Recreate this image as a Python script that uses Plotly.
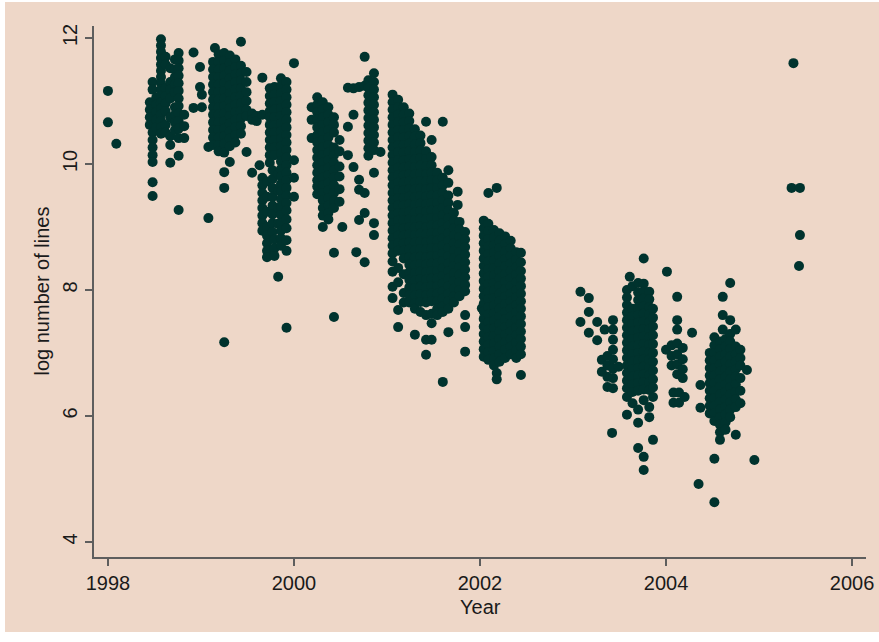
import plotly.graph_objects as go

# ---- data: release date (year) -> list of log(number of lines) ----
rel_1998 = {
    1998.00: [11.16, 10.66],
    1998.09: [10.32],
    1998.45: [10.98, 10.86, 10.74, 10.62],
    1998.48: [11.30, 11.18, 10.50, 10.38, 10.26, 10.14, 10.03, 9.71, 9.49],
    1998.52: [11.06, 10.94, 10.82, 10.70, 10.58],
    1998.57: [11.98, 11.88, 11.78, 11.68, 11.58, 11.48, 11.38, 11.28, 11.18, 11.08, 10.98, 10.88, 10.78, 10.68, 10.58, 10.48],
    1998.62: [11.70, 11.58, 11.20, 11.08, 10.96, 10.84, 10.62, 10.50],
    1998.67: [11.52, 11.30, 11.18, 11.04, 10.74, 10.44, 10.30, 10.02],
    1998.72: [11.66, 11.50, 11.38, 11.26, 11.14, 10.90, 10.78, 10.66, 10.54],
    1998.76: [11.76, 11.64, 11.52, 11.40, 11.28, 11.16, 11.04, 10.92, 10.80, 10.68, 10.56, 10.41, 10.13, 9.27],
    1998.82: [10.78, 10.60, 10.41],
    1998.92: [11.77, 10.89],
    1998.99: [11.54, 11.22],
    1999.01: [11.10, 10.90],
    1999.08: [10.27, 9.14],
}

rel_1999 = {
    1999.13: [11.62, 11.50, 11.38, 11.26, 11.14, 11.02, 10.90, 10.78, 10.66, 10.54, 10.42, 10.30],
    1999.15: [11.84],
    1999.19: [11.74, 11.62, 11.50, 11.38, 11.26, 11.14, 11.02, 10.90, 10.78, 10.66, 10.54, 10.42, 10.30, 10.20],
    1999.25: [11.76, 11.64, 11.52, 11.40, 11.28, 11.16, 11.04, 10.92, 10.80, 10.68, 10.56, 10.44, 10.32, 10.18, 9.87, 9.62, 7.17],
    1999.31: [11.72, 11.60, 11.48, 11.36, 11.24, 11.12, 11.00, 10.88, 10.76, 10.64, 10.52, 10.40, 10.28, 10.03],
    1999.37: [11.66, 11.54, 11.42, 11.30, 11.18, 11.06, 10.94, 10.82, 10.70, 10.58, 10.46, 10.34],
    1999.43: [11.94, 11.56, 11.44, 11.32, 11.20, 11.08, 10.96, 10.84, 10.72, 10.60, 10.48],
    1999.49: [11.46, 11.30, 11.14, 11.00, 10.86, 10.76, 10.19],
    1999.55: [10.80, 10.70, 9.86],
    1999.60: [10.76, 10.68],
    1999.63: [9.98],
    1999.66: [11.37, 10.78, 9.78, 9.66, 9.54, 9.42, 9.30, 9.18, 9.06, 8.94],
    1999.71: [9.72, 9.48, 9.24, 9.00, 8.86, 8.74, 8.62, 8.52],
    1999.74: [11.20, 11.08, 10.96, 10.84, 10.74, 10.62, 10.50, 10.38, 10.26, 10.14, 10.02],
    1999.77: [9.90, 9.76, 9.62, 9.48, 9.34, 9.20, 9.06, 8.92],
    1999.79: [11.22, 11.10, 10.98, 10.86, 10.74, 10.62, 10.50, 10.38, 10.26, 10.14, 8.80, 8.66, 8.54],
    1999.83: [9.84, 9.58, 9.30, 9.05, 8.21],
    1999.86: [11.36, 11.24, 11.12, 11.00, 10.88, 10.76, 10.64, 10.52, 10.40, 10.28, 10.16, 10.04, 9.92, 9.80, 9.68, 9.56, 9.44, 9.32, 9.19, 9.06, 8.94, 8.82, 8.70],
    1999.92: [11.30, 11.18, 11.06, 10.94, 10.82, 10.70, 10.58, 10.46, 10.34, 10.22, 10.10, 9.98, 9.86, 9.74, 9.62, 9.50, 9.38, 9.26, 9.12, 8.98, 8.79, 8.62, 7.40],
}

rel_2000 = {
    2000.00: [11.60, 10.06, 9.78, 9.48],
    2000.19: [10.90, 10.70, 10.41],
    2000.25: [11.06, 10.94, 10.82, 10.70, 10.58, 10.46, 10.34, 10.22, 10.10, 9.98, 9.86, 9.74, 9.64, 9.52],
    2000.31: [10.98, 10.86, 10.74, 10.62, 10.50, 10.38, 10.26, 10.14, 10.02, 9.90, 9.78, 9.66, 9.54, 9.42, 9.30, 9.18, 9.00],
    2000.37: [10.90, 10.78, 10.66, 10.54, 10.42, 10.30, 10.18, 10.06, 9.94, 9.82, 9.70, 9.58, 9.46, 9.34, 9.22, 9.12],
    2000.43: [10.74, 10.62, 10.50, 10.26, 10.14, 10.02, 9.90, 9.78, 9.66, 9.54, 9.42, 9.30, 8.59, 7.57],
    2000.49: [10.38, 10.20, 9.96, 9.80, 9.60, 9.40],
    2000.52: [9.00],
    2000.58: [11.21, 10.59, 10.14],
    2000.64: [11.20, 10.78, 9.95],
    2000.67: [8.60],
    2000.70: [11.22, 9.75, 9.59, 9.11],
    2000.76: [11.70, 11.24, 9.54, 9.22, 8.44],
    2000.80: [11.33, 11.21, 11.09, 10.97, 10.85, 10.73, 10.61, 10.49, 10.37, 10.25, 10.13],
    2000.86: [11.44, 11.30, 11.18, 11.06, 10.94, 10.82, 10.70, 10.58, 10.46, 10.34, 10.22, 9.86, 9.06, 8.87],
    2000.93: [10.19],
}

rel_2001 = {
    2001.06: [11.10, 10.98, 10.86, 10.74, 10.62, 10.50, 10.38, 10.26, 10.14, 10.02, 9.90, 9.78, 9.66, 9.54, 9.42, 9.30, 9.18, 9.06, 8.94, 8.82, 8.70, 8.58, 8.45, 8.29, 8.05, 7.87],
    2001.12: [11.02, 10.90, 10.78, 10.66, 10.54, 10.42, 10.30, 10.18, 10.06, 9.94, 9.82, 9.70, 9.58, 9.46, 9.34, 9.22, 9.10, 8.98, 8.86, 8.74, 8.62, 8.35, 8.12, 7.68, 7.41],
    2001.18: [10.90, 10.78, 10.66, 10.54, 10.42, 10.30, 10.18, 10.06, 9.94, 9.82, 9.70, 9.58, 9.46, 9.34, 9.22, 9.10, 8.98, 8.86, 8.74, 8.62, 8.50, 8.25, 7.95, 7.80],
    2001.24: [10.80, 10.68, 10.56, 10.44, 10.32, 10.20, 10.08, 9.96, 9.84, 9.72, 9.60, 9.48, 9.36, 9.24, 9.12, 9.00, 8.88, 8.76, 8.64, 8.52, 8.40, 8.28, 8.16, 8.04, 7.92, 7.80],
    2001.30: [10.55, 10.43, 10.31, 10.19, 10.07, 9.95, 9.83, 9.71, 9.59, 9.47, 9.35, 9.23, 9.11, 8.99, 8.87, 8.75, 8.63, 8.51, 8.39, 8.27, 8.15, 8.03, 7.91, 7.79, 7.70, 7.29],
    2001.36: [10.45, 10.33, 10.21, 10.09, 9.97, 9.85, 9.73, 9.61, 9.49, 9.37, 9.25, 9.13, 9.01, 8.89, 8.77, 8.65, 8.53, 8.41, 8.29, 8.17, 8.05, 7.93, 7.81, 7.65],
    2001.42: [10.67, 10.20, 10.08, 9.96, 9.84, 9.72, 9.60, 9.48, 9.36, 9.24, 9.12, 9.00, 8.88, 8.76, 8.64, 8.52, 8.40, 8.28, 8.16, 8.04, 7.92, 7.80, 7.60, 7.21, 6.97],
    2001.48: [10.38, 10.11, 9.98, 9.86, 9.74, 9.62, 9.50, 9.38, 9.26, 9.14, 9.02, 8.90, 8.78, 8.66, 8.54, 8.42, 8.30, 8.18, 8.06, 7.94, 7.82, 7.62, 7.47, 7.21],
    2001.54: [9.86, 9.74, 9.62, 9.50, 9.38, 9.26, 9.14, 9.02, 8.90, 8.78, 8.66, 8.54, 8.42, 8.30, 8.18, 8.06, 7.94, 7.82, 7.70, 7.60],
    2001.60: [10.67, 9.78, 9.66, 9.54, 9.42, 9.30, 9.18, 9.06, 8.94, 8.82, 8.70, 8.58, 8.46, 8.34, 8.22, 8.10, 7.98, 7.86, 7.74, 7.65, 6.54],
    2001.66: [9.90, 9.70, 9.50, 9.38, 9.26, 9.14, 9.02, 8.90, 8.78, 8.66, 8.54, 8.42, 8.30, 8.18, 8.06, 7.94, 7.82, 7.70, 7.33],
    2001.72: [9.22, 9.10, 8.98, 8.86, 8.74, 8.62, 8.50, 8.38, 8.26, 8.14, 8.02, 7.90, 7.80],
    2001.76: [9.56, 9.35],
    2001.78: [9.08, 8.96, 8.84, 8.72, 8.60, 8.48, 8.36, 8.24, 8.12, 8.00, 7.90],
    2001.84: [8.92, 8.80, 8.68, 8.56, 8.44, 8.32, 8.20, 8.08, 7.98, 7.60, 7.41, 7.02],
}

rel_2002 = {
    2002.02: [7.71],
    2002.04: [9.10, 8.98, 8.86, 8.74, 8.62, 8.50, 8.38, 8.26, 8.14, 8.02, 7.90, 7.78, 7.66, 7.54, 7.42, 7.30, 7.18, 7.06, 6.94],
    2002.09: [9.54, 9.05, 8.93, 8.81, 8.69, 8.57, 8.45, 8.33, 8.21, 8.09, 7.97, 7.85, 7.73, 7.61, 7.49, 7.37, 7.25, 7.13, 7.01, 6.89],
    2002.15: [8.95, 8.83, 8.71, 8.59, 8.47, 8.35, 8.23, 8.11, 7.99, 7.87, 7.75, 7.63, 7.51, 7.39, 7.27, 7.15, 7.03, 6.91, 6.80],
    2002.18: [9.62, 6.68, 6.58],
    2002.21: [8.90, 8.78, 8.66, 8.54, 8.42, 8.30, 8.18, 8.06, 7.94, 7.82, 7.70, 7.58, 7.46, 7.34, 7.22, 7.10, 6.98, 6.86],
    2002.27: [8.85, 8.73, 8.61, 8.49, 8.37, 8.25, 8.13, 8.01, 7.89, 7.77, 7.65, 7.53, 7.41, 7.29, 7.17, 7.05, 6.92],
    2002.33: [8.78, 8.66, 8.54, 8.42, 8.30, 8.18, 8.06, 7.94, 7.82, 7.70, 7.58, 7.46, 7.34, 7.22, 7.10, 6.98],
    2002.39: [8.60, 8.48, 8.36, 8.24, 8.12, 8.00, 7.88, 7.76, 7.64, 7.52, 7.40, 7.28, 7.16, 7.04, 6.92],
    2002.44: [8.59, 8.44, 8.30, 8.18, 8.06, 7.94, 7.82, 7.70, 7.58, 7.46, 7.34, 7.22, 7.10, 6.98, 6.65],
}

rel_2003 = {
    2003.08: [7.97, 7.49],
    2003.17: [7.87, 7.65, 7.32],
    2003.26: [7.49, 7.20],
    2003.31: [6.89, 6.70],
    2003.34: [7.37],
    2003.37: [6.95, 6.80, 6.62, 6.46],
    2003.42: [5.73],
    2003.43: [7.52, 7.37, 7.21, 7.05, 6.90, 6.75, 6.60, 6.44],
    2003.49: [6.78],
    2003.58: [8.00, 7.88, 7.76, 7.64, 7.52, 7.40, 7.28, 7.16, 7.04, 6.92, 6.80, 6.68, 6.56, 6.44, 6.30, 6.02],
    2003.61: [8.21],
    2003.64: [8.06, 7.70, 7.58, 7.46, 7.34, 7.22, 7.10, 6.98, 6.86, 6.74, 6.62, 6.50, 6.38, 6.20],
    2003.70: [8.11, 7.96, 7.84, 7.72, 7.60, 7.48, 7.36, 7.24, 7.12, 7.00, 6.88, 6.76, 6.64, 6.52, 6.40, 6.10, 5.89, 5.49],
    2003.76: [8.50, 8.10, 7.98, 7.86, 7.74, 7.62, 7.50, 7.38, 7.26, 7.14, 7.02, 6.90, 6.78, 6.66, 6.54, 6.42, 6.25, 5.35, 5.14],
    2003.82: [7.97, 7.85, 7.73, 7.61, 7.49, 7.37, 7.25, 7.13, 7.01, 6.89, 6.77, 6.65, 6.53, 6.41, 6.14, 5.98],
    2003.86: [7.70, 7.56, 7.42, 7.28, 7.14, 7.00, 6.86, 6.72, 6.58, 6.45, 6.30, 5.62],
}

rel_2004 = {
    2004.00: [7.05],
    2004.01: [8.29],
    2004.06: [7.12, 6.95, 6.80],
    2004.08: [6.37, 6.21],
    2004.12: [7.89, 7.52, 7.37, 7.15, 6.98, 6.82, 6.66],
    2004.14: [6.37, 6.21],
    2004.18: [7.08, 6.90, 6.74, 6.60],
    2004.20: [6.30],
    2004.28: [7.32],
    2004.35: [4.92],
    2004.37: [6.49, 6.13],
    2004.47: [7.00, 6.88, 6.76, 6.64, 6.52, 6.40, 6.28, 6.16, 6.04],
    2004.52: [7.25, 7.12, 7.00, 6.88, 6.76, 6.64, 6.52, 6.40, 6.28, 6.16, 6.04, 5.92, 5.32, 4.63],
    2004.58: [7.18, 7.06, 6.94, 6.82, 6.70, 6.58, 6.46, 6.34, 6.22, 6.10, 5.98, 5.86, 5.74, 5.62],
    2004.61: [7.89, 7.60, 7.37],
    2004.64: [7.22, 7.10, 6.98, 6.86, 6.74, 6.62, 6.50, 6.38, 6.26, 6.14, 6.02, 5.90, 5.78],
    2004.69: [8.11, 7.52, 7.30, 7.18, 7.06, 6.94, 6.82, 6.70, 6.58, 6.46, 6.34, 6.22, 6.10, 5.98],
    2004.75: [7.37, 7.10, 6.98, 6.86, 6.74, 6.62, 6.50, 6.38, 6.26, 6.14, 5.70],
    2004.80: [7.05, 6.92, 6.80, 6.60, 6.40, 6.20],
    2004.87: [6.73],
    2004.95: [5.30],
}

rel_2005 = {
    2005.35: [9.62],
    2005.37: [11.60],
    2005.43: [8.38],
    2005.44: [9.62, 8.87],
}

x_ticks = [1998, 2000, 2002, 2004, 2006]
y_ticks = [4, 6, 8, 10, 12]
x_title = "Year"
y_title = "log number of lines"

years, loglines = [], []
for group in (rel_1998, rel_1999, rel_2000, rel_2001, rel_2002, rel_2003, rel_2004, rel_2005):
    for yr, vals in group.items():
        for v in vals:
            years.append(yr)
            loglines.append(v)

PEACH = "#EED7C8"
DOT = "#00332E"
AXIS = "#5E5E5E"
FONT = "Liberation Sans, Arial, sans-serif"

W, H = 879, 642
L, R, T, B = 94, 13, 26, 85
pw, ph = W - L - R, H - T - B

fig = go.Figure(go.Scatter(
    x=years, y=loglines, mode="markers",
    marker=dict(size=10, color=DOT, line=dict(width=0)),
    hoverinfo="x+y", showlegend=False, cliponaxis=False,
))

def px_x(p):
    return (p - L) / pw

def px_y(p):
    return (H - B - p) / ph

fig.update_layout(
    width=W, height=H,
    margin=dict(l=L, r=R, t=T, b=B, autoexpand=False),
    paper_bgcolor="white",
    plot_bgcolor=PEACH,
    font=dict(family=FONT, size=20, color="#1a1a1a"),
    shapes=[dict(type="rect", xref="paper", yref="paper",
                 x0=px_x(5), x1=px_x(W + 2), y0=px_y(632), y1=px_y(2),
                 fillcolor=PEACH, line=dict(width=0), layer="below")],
    annotations=[
        dict(text=x_title, xref="paper", yref="paper", x=px_x(480), y=px_y(607),
             xanchor="center", yanchor="middle", showarrow=False,
             font=dict(family=FONT, size=20, color="#1a1a1a")),
        dict(text=y_title, xref="paper", yref="paper", x=px_x(41), y=0.5,
             xanchor="center", yanchor="middle", textangle=-90, showarrow=False,
             font=dict(family=FONT, size=20, color="#1a1a1a")),
    ],
    xaxis=dict(range=[1997.85, 2006.15], tickvals=x_ticks, showgrid=False, zeroline=False,
               automargin=False,
               showline=True, linecolor=AXIS, linewidth=2, ticks="outside", ticklen=7,
               tickwidth=2, tickcolor=AXIS, tickfont=dict(size=20, color="#1a1a1a")),
    yaxis=dict(range=[3.76, 12.19], tickvals=y_ticks, showgrid=False, zeroline=False,
               automargin=False,
               showline=True, linecolor=AXIS, linewidth=2, ticks="outside", ticklen=7,
               tickwidth=2, tickcolor=AXIS, tickangle=-90, tickfont=dict(size=20, color="#1a1a1a")),
)

fig.write_html("out.html", config={"displayModeBar": False},
               post_script="document.body.style.margin='0px';document.body.style.overflow='hidden';")
